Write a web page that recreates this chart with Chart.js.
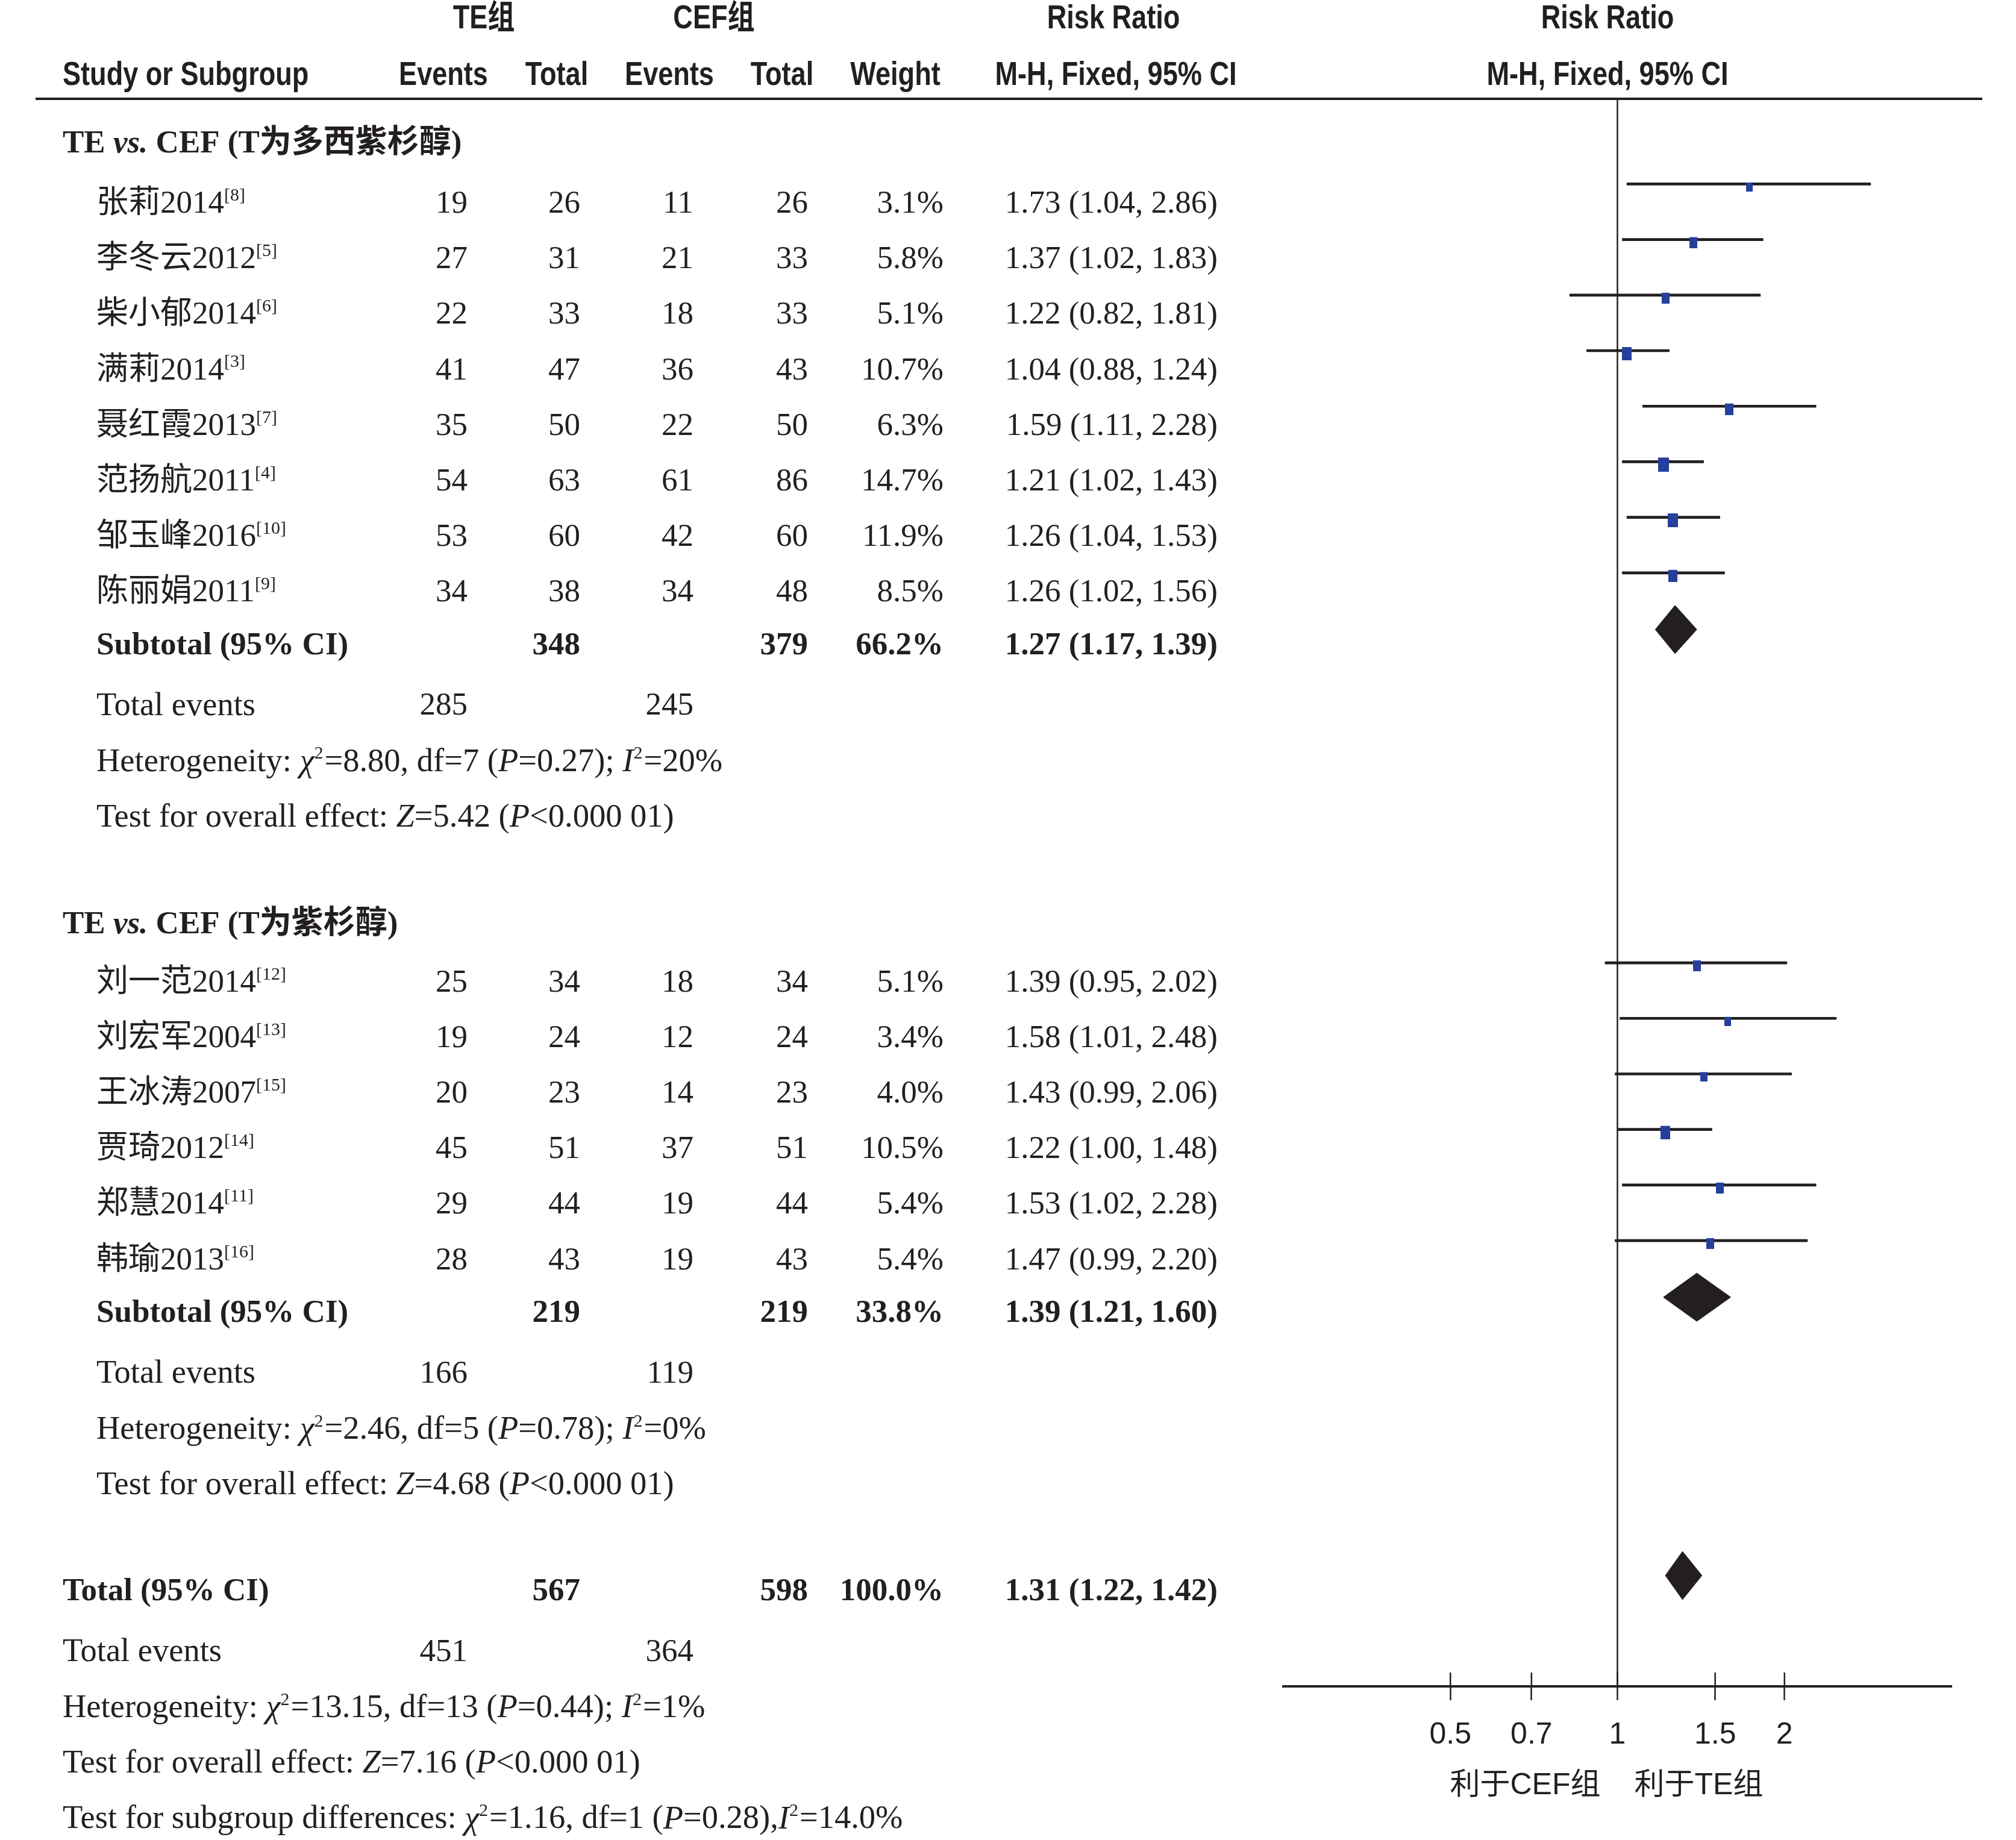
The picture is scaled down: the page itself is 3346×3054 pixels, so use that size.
<!DOCTYPE html>
<html>
<head>
<meta charset="utf-8">
<script src="https://cdn.jsdelivr.net/npm/chart.js@4.4.1/dist/chart.umd.min.js"></script>
<style>
  html, body { margin: 0; padding: 0; background: #fff; }
  #forest { display: block; }
</style>
</head>
<body>
<canvas id="forest" width="3346" height="3054" style="width:3346px;height:3054px"></canvas>
<script>
// ---- data: TE vs. CEF (T为多西紫杉醇)
const studies1 = ["张莉2014", "李冬云2012", "柴小郁2014", "满莉2014", "聂红霞2013", "范扬航2011", "邹玉峰2016", "陈丽娟2011"];
const refs1 = ["[8]", "[5]", "[6]", "[3]", "[7]", "[4]", "[10]", "[9]"];
const teEvents1 = [19, 27, 22, 41, 35, 54, 53, 34];
const teTotal1 = [26, 31, 33, 47, 50, 63, 60, 38];
const cefEvents1 = [11, 21, 18, 36, 22, 61, 42, 34];
const cefTotal1 = [26, 33, 33, 43, 50, 86, 60, 48];
const weight1 = [3.1, 5.8, 5.1, 10.7, 6.3, 14.7, 11.9, 8.5];
const rr1 = [1.73, 1.37, 1.22, 1.04, 1.59, 1.21, 1.26, 1.26];
const lo1 = [1.04, 1.02, 0.82, 0.88, 1.11, 1.02, 1.04, 1.02];
const hi1 = [2.86, 1.83, 1.81, 1.24, 2.28, 1.43, 1.53, 1.56];

// ---- data: TE vs. CEF (T为紫杉醇)
const studies2 = ["刘一范2014", "刘宏军2004", "王冰涛2007", "贾琦2012", "郑慧2014", "韩瑜2013"];
const refs2 = ["[12]", "[13]", "[15]", "[14]", "[11]", "[16]"];
const teEvents2 = [25, 19, 20, 45, 29, 28];
const teTotal2 = [34, 24, 23, 51, 44, 43];
const cefEvents2 = [18, 12, 14, 37, 19, 19];
const cefTotal2 = [34, 24, 23, 51, 44, 43];
const weight2 = [5.1, 3.4, 4.0, 10.5, 5.4, 5.4];
const rr2 = [1.39, 1.58, 1.43, 1.22, 1.53, 1.47];
const lo2 = [0.95, 1.01, 0.99, 1.00, 1.02, 0.99];
const hi2 = [2.02, 2.48, 2.06, 1.48, 2.28, 2.20];

// ---- summaries: subgroup 1, subgroup 2, overall
const sumTeTotal = [348, 219, 567];
const sumCefTotal = [379, 219, 598];
const sumWeight = [66.2, 33.8, 100.0];
const sumRR = [1.27, 1.39, 1.31];
const sumLo = [1.17, 1.21, 1.22];
const sumHi = [1.39, 1.60, 1.42];
const sumTeEvents = [285, 166, 451];
const sumCefEvents = [245, 119, 364];
const hetChi2 = [8.80, 2.46, 13.15];
const hetDf = [7, 5, 13];
const hetP = [0.27, 0.78, 0.44];
const hetI2 = ["20%", "0%", "1%"];
const effectZ = [5.42, 4.68, 7.16];
const diffChi2 = 1.16, diffDf = 1, diffP = 0.28, diffI2 = "14.0%";

const tickVals = [0.5, 0.7, 1, 1.5, 2];

// ---- layout
const INK = "#231f20";
const BOX = "#253f9b";
const SERIF = '"Liberation Serif", "Noto Sans CJK SC", serif';
const SANS = '"Liberation Sans", "Noto Sans CJK SC", sans-serif';
const AREA = { left: 2130, right: 3239, top: 165, bottom: 2799 };
const ROW_PX = 92.2, ROW1_PX = 334;
const Y_MIN = 1 + (AREA.top - ROW1_PX) / ROW_PX;
const Y_MAX = 1 + (AREA.bottom - ROW1_PX) / ROW_PX;
const G1_HEAD = -0.08, G1_FIRST = 1, G2_HEAD = 13.97, G2_FIRST = 15.02, TOTAL_ROW = 25.98;
const FOOT = [1.09, 2.1, 3.1, 4.1];
const MARK_UP = 0.31, DIAMOND_UP = 0.24, DIAMOND_HALF = 0.434;
const TEXT_DY = 5;
const COL = { name0: 104, name1: 160, teE: 776, teT: 963, cefE: 1151, cefT: 1341, wt: 1566, ci: 2021 };

const rows1 = studies1.map((_, i) => G1_FIRST + i);
const rows2 = studies2.map((_, i) => G2_FIRST + i);
const sumRows = [G1_FIRST + studies1.length - 0.05, G2_FIRST + studies2.length - 0.05, TOTAL_ROW];

const allRows = rows1.concat(rows2);
const allRR = rr1.concat(rr2);
const allLo = lo1.concat(lo2);
const allHi = hi1.concat(hi2);
const allWeight = weight1.concat(weight2);

// box glyphs, a bit taller than wide, hanging just under the CI line
function boxGlyph(w) {
  const bw = Math.round(5 + 3.4 * Math.sqrt(w));
  const bh = Math.round(bw * 1.35);
  const c = document.createElement("canvas");
  c.width = bw;
  c.height = bh + 10;
  const g = c.getContext("2d");
  g.fillStyle = BOX;
  g.fillRect(0, 10, bw, bh);
  return c;
}

function diamond(i) {
  const y = sumRows[i] - DIAMOND_UP;
  return [
    { x: sumLo[i], y: y },
    { x: sumRR[i], y: y - DIAMOND_HALF },
    { x: sumHi[i], y: y },
    { x: sumRR[i], y: y + DIAMOND_HALF },
    { x: sumLo[i], y: y },
  ];
}

const fmt2 = (v) => v.toFixed(2);
const ciText = (r, l, h) => `${fmt2(r)} (${fmt2(l)}, ${fmt2(h)})`;

function rich(ctx, segs, x, y, align, size) {
  const fs = size || 53;
  const fontOf = (s) => `${s.i ? "italic " : ""}${s.b ? "bold " : ""}${s.sup ? 30 : fs}px ${SERIF}`;
  let w = 0;
  segs.forEach((s) => {
    ctx.font = fontOf(s);
    s.w = ctx.measureText(s.t).width + (s.sup ? 2 : 0);
    w += s.w;
  });
  let cx = align === "right" ? x - w : align === "center" ? x - w / 2 : x;
  ctx.textAlign = "left";
  ctx.textBaseline = "middle";
  segs.forEach((s) => {
    ctx.font = fontOf(s);
    ctx.fillText(s.t, cx, s.sup ? y - 14 : y);
    cx += s.w;
  });
}

// condensed bold sans for the column headings
function narrow(ctx, text, x, y, align) {
  ctx.save();
  ctx.font = `bold 55px ${SANS}`;
  ctx.textAlign = align;
  ctx.textBaseline = "middle";
  ctx.translate(x, y);
  ctx.scale(0.82, 1);
  ctx.fillText(text, 0, 0);
  ctx.restore();
}

const hetSegs = (k) => [
  { t: "Heterogeneity: " }, { t: "χ", i: true }, { t: "2", sup: true },
  { t: `=${fmt2(hetChi2[k])}, df=${hetDf[k]} (` }, { t: "P", i: true },
  { t: `=${fmt2(hetP[k])}); ` }, { t: "I", i: true }, { t: "2", sup: true }, { t: `=${hetI2[k]}` },
];
const testSegs = (k) => [
  { t: "Test for overall effect: " }, { t: "Z", i: true }, { t: `=${fmt2(effectZ[k])} (` },
  { t: "P", i: true }, { t: "<0.000 01)" },
];

const tablePlugin = {
  id: "table",
  afterDraw(chart) {
    const ctx = chart.ctx;
    const ys = chart.scales.y;
    const xs = chart.scales.x;
    const py = (r) => ys.getPixelForValue(r) + TEXT_DY;
    const FS = 54.5;
    ctx.save();
    ctx.fillStyle = INK;
    ctx.strokeStyle = INK;

    // headings
    const h1 = py(-2.33), h2 = py(-1.31);
    narrow(ctx, "TE组", 803, h1, "center");
    narrow(ctx, "CEF组", 1185, h1, "center");
    narrow(ctx, "Risk Ratio", 1848, h1, "center");
    narrow(ctx, "Risk Ratio", 2668, h1, "center");
    narrow(ctx, "Study or Subgroup", 104, h2, "left");
    narrow(ctx, "Events", 736, h2, "center");
    narrow(ctx, "Total", 924, h2, "center");
    narrow(ctx, "Events", 1111, h2, "center");
    narrow(ctx, "Total", 1298, h2, "center");
    narrow(ctx, "Weight", 1486, h2, "center");
    narrow(ctx, "M-H, Fixed, 95% CI", 1852, h2, "center");
    narrow(ctx, "M-H, Fixed, 95% CI", 2668, h2, "center");

    ctx.lineWidth = 4;
    ctx.beginPath();
    ctx.moveTo(59, chart.chartArea.top - 1);
    ctx.lineTo(3290, chart.chartArea.top - 1);
    ctx.stroke();

    const groups = [
      { head: "T为多西紫杉醇)", rows: rows1, headRow: G1_HEAD, names: studies1, refs: refs1,
        te: teEvents1, tt: teTotal1, ce: cefEvents1, ct: cefTotal1, wt: weight1, rr: rr1, lo: lo1, hi: hi1 },
      { head: "T为紫杉醇)", rows: rows2, headRow: G2_HEAD, names: studies2, refs: refs2,
        te: teEvents2, tt: teTotal2, ce: cefEvents2, ct: cefTotal2, wt: weight2, rr: rr2, lo: lo2, hi: hi2 },
    ];

    const num = (v, x, y, bold) => {
      ctx.font = `${bold ? "bold " : ""}53px ${SERIF}`;
      ctx.textAlign = "right";
      ctx.textBaseline = "middle";
      ctx.fillText(String(v), x, y);
    };

    groups.forEach((g, k) => {
      rich(ctx, [{ t: "TE ", b: true }, { t: "vs.", b: true, i: true }, { t: " CEF (" + g.head, b: true }], COL.name0, py(g.headRow), "left");
      g.names.forEach((n, i) => {
        const y = py(g.rows[i]);
        rich(ctx, [{ t: n }, { t: g.refs[i], sup: true }], COL.name1, y, "left");
        num(g.te[i], COL.teE, y);
        num(g.tt[i], COL.teT, y);
        num(g.ce[i], COL.cefE, y);
        num(g.ct[i], COL.cefT, y);
        num(g.wt[i].toFixed(1) + "%", COL.wt, y);
        num(ciText(g.rr[i], g.lo[i], g.hi[i]), COL.ci, y);
      });
      const ys2 = py(sumRows[k]);
      rich(ctx, [{ t: "Subtotal (95% CI)", b: true }], COL.name1, ys2, "left");
      num(sumTeTotal[k], COL.teT, ys2, true);
      num(sumCefTotal[k], COL.cefT, ys2, true);
      num(sumWeight[k].toFixed(1) + "%", COL.wt, ys2, true);
      num(ciText(sumRR[k], sumLo[k], sumHi[k]), COL.ci, ys2, true);
      const ye = py(sumRows[k] + FOOT[0]);
      rich(ctx, [{ t: "Total events" }], COL.name1, ye, "left", FS);
      num(sumTeEvents[k], COL.teE, ye);
      num(sumCefEvents[k], COL.cefE, ye);
      rich(ctx, hetSegs(k), COL.name1, py(sumRows[k] + FOOT[1]), "left", FS);
      rich(ctx, testSegs(k), COL.name1, py(sumRows[k] + FOOT[2]), "left", FS);
    });

    // overall
    const yt = py(sumRows[2]);
    rich(ctx, [{ t: "Total (95% CI)", b: true }], COL.name0, yt, "left");
    num(sumTeTotal[2], COL.teT, yt, true);
    num(sumCefTotal[2], COL.cefT, yt, true);
    num(sumWeight[2].toFixed(1) + "%", COL.wt, yt, true);
    num(ciText(sumRR[2], sumLo[2], sumHi[2]), COL.ci, yt, true);
    const ye = py(sumRows[2] + FOOT[0]);
    rich(ctx, [{ t: "Total events" }], COL.name0, ye, "left", FS);
    num(sumTeEvents[2], COL.teE, ye);
    num(sumCefEvents[2], COL.cefE, ye);
    rich(ctx, hetSegs(2), COL.name0, py(sumRows[2] + FOOT[1]), "left", FS);
    rich(ctx, testSegs(2), COL.name0, py(sumRows[2] + FOOT[2]), "left", FS);
    rich(ctx, [
      { t: "Test for subgroup differences: " }, { t: "χ", i: true }, { t: "2", sup: true },
      { t: `=${fmt2(diffChi2)}, df=${diffDf} (` }, { t: "P", i: true }, { t: `=${fmt2(diffP)}),` },
      { t: "I", i: true }, { t: "2", sup: true }, { t: `=${diffI2}` },
    ], COL.name0, py(sumRows[2] + FOOT[3]), "left", FS);

    // upper halves of the axis ticks
    const b = chart.chartArea.bottom;
    ctx.lineWidth = 2.5;
    xs.ticks.forEach((t) => {
      const px = xs.getPixelForValue(t.value);
      ctx.beginPath();
      ctx.moveTo(px, b - 23);
      ctx.lineTo(px, b);
      ctx.stroke();
    });

    // favour labels
    const p1 = xs.getPixelForValue(1);
    ctx.font = `50px ${SANS}`;
    ctx.textBaseline = "middle";
    ctx.textAlign = "right";
    ctx.fillText("利于CEF组", p1 - 28, 2964);
    ctx.textAlign = "left";
    ctx.fillText("利于TE组", p1 + 28, 2964);
    ctx.restore();
  },
};

const datasets = [
  {
    type: "scatter",
    data: allRR.map((v, i) => ({ x: v, y: allRows[i] - MARK_UP })),
    pointStyle: allWeight.map(boxGlyph),
    pointRadius: 10,
  },
  {
    type: "bar",
    indexAxis: "y",
    data: allRows.map((r, i) => ({ x: [allLo[i], allHi[i]], y: r - MARK_UP })),
    backgroundColor: INK,
    borderWidth: 0,
    barThickness: 4,
  },
].concat(
  [0, 1, 2].map((k) => ({
    type: "line",
    data: diamond(k),
    fill: "shape",
    backgroundColor: INK,
    borderColor: INK,
    borderWidth: 1,
    pointRadius: 0,
    tension: 0,
  })),
  [{
    type: "line",
    data: [{ x: 1, y: Y_MIN }, { x: 1, y: Y_MAX }],
    borderColor: INK,
    borderWidth: 2.5,
    pointRadius: 0,
    clip: false,
  }]
);

new Chart(document.getElementById("forest"), {
  type: "scatter",
  data: { datasets },
  options: {
    responsive: false,
    animation: false,
    devicePixelRatio: 1,
    layout: { padding: { left: AREA.left, right: 3346 - AREA.right, top: AREA.top, bottom: 3054 - AREA.bottom - 100 } },
    plugins: { legend: { display: false }, tooltip: { enabled: false } },
    scales: {
      x: {
        type: "logarithmic",
        position: "bottom",
        min: 0.25,
        max: 4,
        offset: false,
        afterBuildTicks: (s) => { s.ticks = tickVals.map((v) => ({ value: v })); },
        afterFit: (s) => { s.height = 100; },
        border: { display: true, color: INK, width: 4 },
        grid: { display: true, offset: false, drawOnChartArea: false, drawTicks: true, tickLength: 23, tickWidth: 2.5, tickColor: INK },
        ticks: {
          color: INK,
          autoSkip: false,
          maxRotation: 0,
          padding: 28,
          font: { family: '"Liberation Sans Narrow", "Liberation Sans", sans-serif', size: 50 },
          callback: (v) => String(v),
        },
      },
      y: { type: "linear", reverse: true, offset: false, min: Y_MIN, max: Y_MAX, display: false, grid: { offset: false } },
    },
  },
  plugins: [tablePlugin],
});
</script>
</body>
</html>
